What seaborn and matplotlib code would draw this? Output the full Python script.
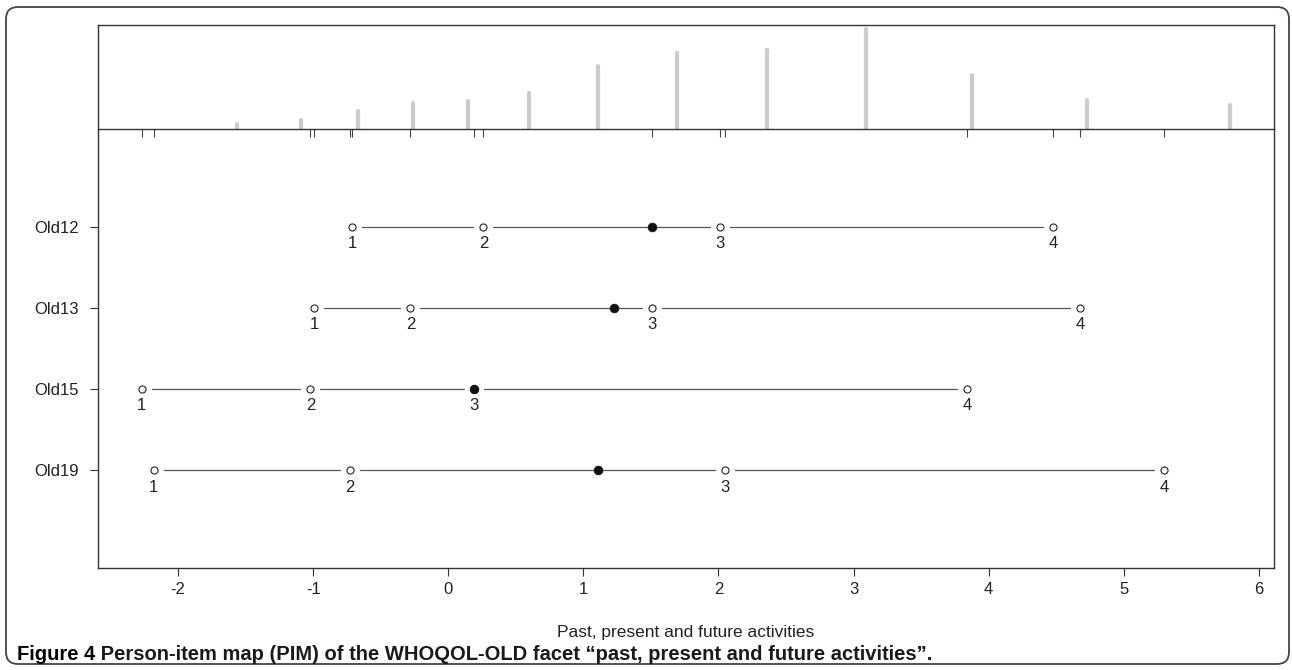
import numpy as np
import pandas as pd
import seaborn as sns
import matplotlib.pyplot as plt
from matplotlib.patches import FancyBboxPatch
from matplotlib.transforms import IdentityTransform

# item thresholds (category boundaries)
items = ['Old12', 'Old13', 'Old15', 'Old19']
thr_old12 = [-0.71, 0.26, 2.01, 4.48]
thr_old13 = [-0.99, -0.28, 1.51, 4.68]
thr_old15 = [-2.27, -1.02, 0.19, 3.84]
thr_old19 = [-2.18, -0.73, 2.05, 5.30]
# item locations (filled dots)
locations = [1.51, 1.23, 0.19, 1.11]
# person parameter distribution (top panel)
person_theta = [-1.56, -1.09, -0.67, -0.26, 0.15, 0.60, 1.11, 1.69, 2.36, 3.09, 3.88, 4.73, 5.79]
person_count = [5, 9, 18, 26, 28, 36, 62, 75, 78, 99, 53, 29, 24]
x_ticks = [-2, -1, 0, 1, 2, 3, 4, 5, 6]

x_label = 'Past, present and future activities'
caption_bold = 'Figure 4'
caption_rest = ' Person-item map (PIM) of the WHOQOL-OLD facet \u201cpast, present and future activities\u201d.'

sns.set_theme(style="white")
plt.rcParams['font.family'] = ['Liberation Sans', 'DejaVu Sans']
text_color = '#222222'

thresholds = [thr_old12, thr_old13, thr_old15, thr_old19]
ypos = list(range(len(items), 0, -1))  # Old12 on top

rows = []
for name, y, thr in zip(items, ypos, thresholds):
    for k, v in enumerate(thr, start=1):
        rows.append({'item': name, 'y': y, 'value': v, 'cat': str(k)})
df_thr = pd.DataFrame(rows)
df_loc = pd.DataFrame({'item': items, 'y': ypos, 'value': locations})
df_pers = pd.DataFrame({'theta': person_theta, 'n': person_count})

# x range like R: data range + 4%
all_vals = list(df_thr['value']) + person_theta
lo, hi = min(all_vals), max(all_vals)
pad = 0.04 * (hi - lo)
xlim = (lo - pad, hi + pad)

W, H = 1292, 670
def fx(px):
    return px / W
def fy(py):
    return 1 - py / H

fig = plt.figure(figsize=(W / 100, H / 100), dpi=100)
ax = fig.add_axes([fx(98), fy(568), fx(1274) - fx(98), fy(129) - fy(568)])
ax_top = fig.add_axes([fx(98), fy(129), fx(1274) - fx(98), fy(25) - fy(129)])
ax.patch.set_visible(False)
ax_top.patch.set_visible(False)

# === top panel: person distribution ===
ax_top.vlines(df_pers['theta'], 0, df_pers['n'], color='#cccccc', lw=3, capstyle='round')
ax_top.set_xlim(xlim)
ax_top.set_ylim(0, max(person_count) * 1.04)
ax_top.set_yticks([])
ax_top.set_xticks(sorted(df_thr['value']))
ax_top.tick_params(axis='x', direction='out', length=5.5, width=0.8, color='#444444',
                   labelbottom=False, bottom=True)
for s in ax_top.spines.values():
    s.set_color('#333333')
    s.set_linewidth(1.0)

# === bottom panel: item map ===
gap = 10 / 135.0  # gap around open circles, in data units
for name, y, thr in zip(items, ypos, thresholds):
    t = sorted(thr)
    for a, b in zip(t[:-1], t[1:]):
        ax.plot([a + gap, b - gap], [y, y], color='#555555', lw=0.9, zorder=1)

sns.scatterplot(data=df_thr, x='value', y='y', ax=ax, s=26, color='white',
                edgecolor='#222222', linewidth=0.8, zorder=2, legend=False)
sns.scatterplot(data=df_loc, x='value', y='y', ax=ax, s=40, color='#111111',
                edgecolor='#111111', linewidth=0.5, zorder=3, legend=False)

for _, r in df_thr.iterrows():
    ax.annotate(r['cat'], (r['value'], r['y']), xytext=(0, -12), textcoords='offset points',
                ha='center', va='center', fontsize=12, color=text_color)

ax.set_xlim(xlim)
ax.set_ylim(-0.2, 5.2)
ax.set_yticks(ypos)
ax.set_yticklabels(items)
ax.set_xticks(x_ticks)
ax.set_xticklabels([str(v) for v in x_ticks])
ax.set_xlabel('')
ax.set_ylabel('')
ax.tick_params(axis='both', direction='out', length=5.8, width=0.8, color='#333333',
               labelsize=12, labelcolor=text_color, bottom=True, left=True)
ax.tick_params(axis='x', pad=4)
ax.tick_params(axis='y', pad=8)
ax.spines['top'].set_visible(False)
for k in ['left', 'right', 'bottom']:
    ax.spines[k].set_color('#333333')
    ax.spines[k].set_linewidth(1.0)

fig.text(fx(686), fy(632), x_label, ha='center', va='center', fontsize=12.5, color=text_color)

# caption
t1 = fig.text(fx(17), fy(655), caption_bold, ha='left', va='center', fontsize=14.5,
              weight='bold', color='black')
fig.canvas.draw()
bb = t1.get_window_extent()
fig.text(bb.x1 / W, fy(655), caption_rest, ha='left', va='center', fontsize=14.5,
         weight='bold', color='#1a1a1a')

# rounded outer frame
frame = FancyBboxPatch((6, H - 664), 1283, 657, boxstyle='round,pad=0,rounding_size=12',
                       transform=IdentityTransform(), fill=False, ec='#444444', lw=1.3)
fig.patches.append(frame)

plt.savefig('out.png', dpi=100)
plt.close()
